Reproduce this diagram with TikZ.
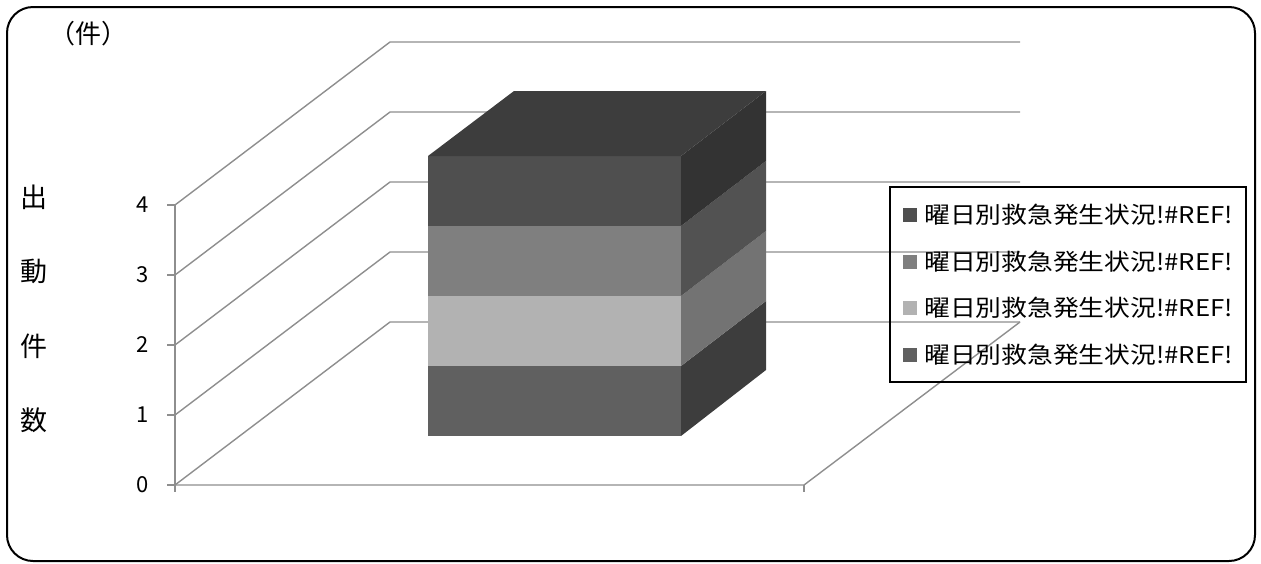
\documentclass[tikz,border=0pt]{standalone}
\usepackage{fontspec}
\setmainfont{Noto Sans CJK JP}
\usepackage{tikz}
\usetikzlibrary{positioning}
\usetikzlibrary{calc}
\definecolor{gridgray}{HTML}{8E8E8E}
\definecolor{seriesA}{HTML}{4F4F4F}
\definecolor{seriesB}{HTML}{7F7F7F}
\definecolor{seriesC}{HTML}{B2B2B2}
\definecolor{seriesD}{HTML}{606060}
\tikzstyle{grid}=[draw=gridgray,line width=1.4pt]
\tikzstyle{ticklab}=[anchor=center,inner sep=0pt,font=\fontsize{22}{22}\selectfont]
\tikzstyle{ytitle}=[anchor=center,inner sep=0pt,font=\fontsize{27}{27}\selectfont]
\tikzstyle{legmark}=[minimum size=14pt,inner sep=0pt]
\tikzstyle{legtext}=[anchor=west,inner sep=0pt,font=\fontsize{23}{23}\selectfont]

\begin{document}
\begin{tikzpicture}[x=1pt,y=-1pt]
\useasboundingbox (0,0) rectangle (1261,563);
\draw[line width=2pt,rounded corners=26pt] (7,7) rectangle (1255,561);

% back wall and floor
\foreach \v in {0,...,4}{
  \coordinate (f\v) at (175,485-70*\v);
  \coordinate (b\v) at (390,322-70*\v);
  \coordinate (e\v) at (1020,322-70*\v);
  \draw[grid] (f\v) -- (b\v) -- (e\v);
  \draw[grid] (f\v) -- ++(-8,0);
  \node[ticklab] (ylab\v) at (143,485-70*\v) {\v};
}
\coordinate (fr) at (804,485);
\draw[grid] (f0) -- (fr) -- (e0);
\draw[grid] (f4) -- ($(f0)+(0,7)$);
\draw[grid] (fr) -- ++(0,7);

% stacked box
\fill[seriesD] (428,366) rectangle (681,436);
\fill[seriesC] (428,296) rectangle (681,366);
\fill[seriesB] (428,226) rectangle (681,296);
\fill[seriesA] (428,156) rectangle (681,226);
\fill[black!76] (681,366) -- (766,301) -- (766,370) -- (681,436) -- cycle;
\fill[black!55] (681,296) -- (766,231) -- (766,301) -- (681,366) -- cycle;
\fill[black!68] (681,226) -- (766,161) -- (766,231) -- (681,296) -- cycle;
\fill[black!80] (681,156) -- (766,91) -- (766,161) -- (681,226) -- cycle;
\fill[black!76] (428,156) -- (514,91) -- (766,91) -- (681,156) -- cycle;

% axis titles
\node[ticklab,font=\fontsize{26}{26}\selectfont] (unit) at (88,34) {（件）};
\node[ytitle] (t1) at (34,197) {出};
\node[ytitle] (t2) at (34,271) {動};
\node[ytitle] (t3) at (34,346) {件};
\node[ytitle] (t4) at (34,420) {数};

% legend
\draw[line width=1.5pt] (890,187) rectangle (1246,382);
\node[legmark,fill=seriesA] (m1) at (910,215) {};
\node[legmark,fill=seriesB] (m2) at (910,262) {};
\node[legmark,fill=seriesC] (m3) at (910,308) {};
\node[legmark,fill=seriesD] (m4) at (910,355) {};
\foreach \i in {1,...,4}
  \node[legtext,right=7pt of m\i] (l\i) {\scalebox{1.12}[1]{曜日別救急発生状況!\#REF!}};
\end{tikzpicture}
\end{document}
